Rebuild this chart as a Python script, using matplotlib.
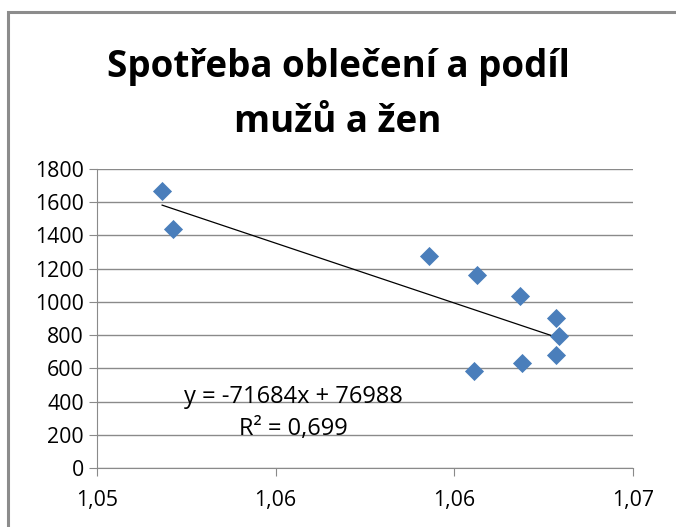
import numpy as np
import matplotlib.pyplot as plt
from matplotlib.patches import Rectangle
from matplotlib.ticker import FixedLocator, FuncFormatter

plt.rcParams["font.family"] = ["Open Sans", "DejaVu Sans"]

# podíl mužů a žen (x) vs. spotřeba oblečení (y)
podil = [1.05243, 1.05283, 1.06237, 1.06418, 1.06577, 1.06713, 1.06725, 1.06711, 1.06587, 1.06407]
spotreba = [1665, 1439, 1274, 1159, 1033, 901, 796, 682, 632, 584]
title_lines = ["Spotřeba oblečení a podíl", "mužů a žen"]
eq_lines = ["y = -71684x + 76988", "R² = 0,699"]
x_ticks = [1.05, 1.05 + 0.02 / 3, 1.05 + 0.04 / 3, 1.07]
y_ticks = list(range(0, 1801, 200))

W, H = 676, 527
fig = plt.figure(figsize=(W / 100, H / 100), dpi=100)
ax = fig.add_axes([97 / W, 1 - 468 / H, 536 / W, 299 / H])

# outer chart frame (cut off on right and bottom like the original)
fig.patches.append(Rectangle((8 / W, -0.2), 1.2, 1 - 12 / H + 0.2,
                             transform=fig.transFigure, fill=False,
                             edgecolor="#8c8c8c", linewidth=2.2))

ax.scatter(podil, spotreba, marker="D", s=95, color="#4a7ebb", zorder=3,
           linewidths=0)

# linear trendline
k, q = np.polyfit(podil, spotreba, 1)
xs = np.array([min(podil), max(podil)])
ax.plot(xs, k * xs + q, color="black", linewidth=0.9, zorder=2)

ax.set_xlim(1.05, 1.07)
ax.set_ylim(0, 1800)
ax.xaxis.set_major_locator(FixedLocator(x_ticks))
ax.xaxis.set_major_formatter(FuncFormatter(lambda v, p: f"{v:.2f}".replace(".", ",")))
ax.set_yticks(y_ticks)
ax.yaxis.grid(True, color="#8a8a8a", linewidth=1)
ax.set_axisbelow(True)
for s in ["top", "right"]:
    ax.spines[s].set_visible(False)
for s in ["left", "bottom"]:
    ax.spines[s].set_color("#8a8a8a")
ax.tick_params(axis="both", colors="#8a8a8a", labelcolor="black",
               labelsize=15.3, length=5.5)
ax.tick_params(axis="y", pad=4)
ax.tick_params(axis="x", pad=10)

for txt, yb in zip(eq_lines, [0.217, 0.109]):
    ax.text(0.366, yb, txt, transform=ax.transAxes, ha="center",
            va="baseline", fontsize=17)

for txt, yb in zip(title_lines, [77, 131.5]):
    fig.text(0.5, 1 - yb / H, txt, ha="center", va="baseline",
             fontsize=26.5, fontweight="bold")

fig.savefig("out.png", dpi=100)
